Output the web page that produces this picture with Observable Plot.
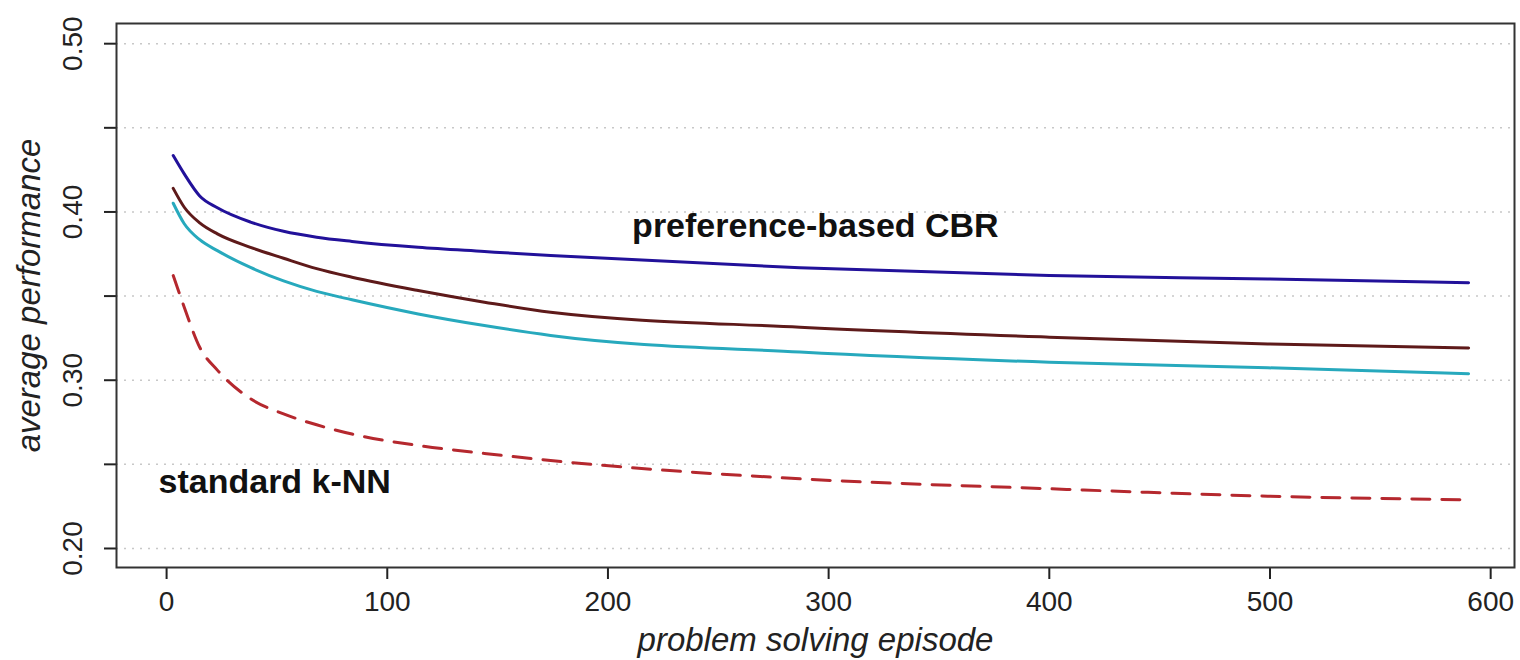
<!DOCTYPE html>
<html>
<head>
<meta charset="utf-8">
<script src="https://cdn.jsdelivr.net/npm/d3@7"></script>
<script src="https://cdn.jsdelivr.net/npm/@observablehq/plot@0.6"></script>
<style>
  html, body { margin: 0; padding: 0; background: #fff; }
</style>
</head>
<body>
<div id="chart"></div>
<script>
// ---- data ----
const episodes = [3, 8, 15, 23, 38, 53, 68, 84, 114, 144, 174, 287, 400, 499, 590];
const seriesNames = ["CBR variant 1", "CBR variant 2", "CBR variant 3", "standard k-NN"];
const seriesColors = ["#22119a", "#5e1a1a", "#27a9bd", "#b5282e"];
const variant1 = [0.4335, 0.4226, 0.4095, 0.4025, 0.394, 0.3885, 0.385, 0.3825, 0.379, 0.3765, 0.3741, 0.3668, 0.3622, 0.3602, 0.3579];
const variant2 = [0.414, 0.4028, 0.3935, 0.387, 0.379, 0.3725, 0.3663, 0.3612, 0.3533, 0.3464, 0.3404, 0.3315, 0.3256, 0.3216, 0.3192];
const variant3 = [0.4052, 0.393, 0.3835, 0.377, 0.367, 0.359, 0.3528, 0.3478, 0.3394, 0.3325, 0.3266, 0.3167, 0.3107, 0.3074, 0.3038];
const knn      = [0.3622, 0.3434, 0.3196, 0.306, 0.289, 0.280, 0.2735, 0.268, 0.2612, 0.2565, 0.2523, 0.2414, 0.2355, 0.2311, 0.2289];
const xTicks = [0, 100, 200, 300, 400, 500, 600];
const yTicks = [0.20, 0.25, 0.30, 0.35, 0.40, 0.45, 0.50];
const yLabelTicks = [0.20, 0.30, 0.40, 0.50];
const xTitle = "problem solving episode";
const yTitle = "average performance";
const annotationTexts = ["preference-based CBR", "standard k-NN"];
const annotationEpisodes = [294, 49];
const annotationPerf = [0.3913, 0.2392];

// ---- build tables ----
const allSeries = [variant1, variant2, variant3, knn];
const rows = allSeries.flatMap((vals, i) =>
  vals.map((v, j) => ({ series: seriesNames[i], episode: episodes[j], value: v }))
);
const annotations = annotationTexts.map((t, i) => ({ text: t, episode: annotationEpisodes[i], perf: annotationPerf[i] }));
const font = "'Liberation Sans', Arial, Helvetica, sans-serif";

const chart = Plot.plot({
  width: 1520,
  height: 660,
  marginLeft: 116,
  marginRight: 6,
  marginTop: 23,
  marginBottom: 93,
  style: { fontFamily: font, background: "#fff", color: "#222" },
  x: { domain: [-22.7, 610.8] },
  y: { domain: [0.1887, 0.512] },
  color: { domain: seriesNames, range: seriesColors },
  marks: [
    Plot.ruleY(yTicks, { stroke: "#c8c8c8", strokeWidth: 1.5, strokeDasharray: "2,6" }),
    Plot.axisY({ ticks: yTicks, tickSize: 12, tickFormat: () => "", label: null, stroke: "#222", strokeWidth: 2 }),
    Plot.axisX({ ticks: xTicks, tickSize: 12, tickFormat: () => "", label: null, stroke: "#222", strokeWidth: 2 }),
    Plot.text(yLabelTicks, { y: d => d, frameAnchor: "left", dx: -43, rotate: -90, textAnchor: "middle", lineAnchor: "middle", text: d => d.toFixed(2), fontSize: 28, fill: "#222" }),
    Plot.text(xTicks, { x: d => d, frameAnchor: "bottom", dy: 35, textAnchor: "middle", lineAnchor: "middle", text: d => String(d), fontSize: 28, fill: "#222" }),
    Plot.text([yTitle], { frameAnchor: "left", dx: -87, rotate: -90, textAnchor: "middle", lineAnchor: "middle", text: d => d, fontSize: 33, fontStyle: "italic", fill: "#222" }),
    Plot.text([xTitle], { frameAnchor: "bottom", dy: 73, textAnchor: "middle", lineAnchor: "middle", text: d => d, fontSize: 33, fontStyle: "italic", fill: "#222" }),
    Plot.line(rows.filter(d => d.series !== "standard k-NN"), {
      x: "episode", y: "value", z: "series", stroke: "series", strokeWidth: 3, curve: "monotone-x"
    }),
    Plot.line(rows.filter(d => d.series === "standard k-NN"), {
      x: "episode", y: "value", stroke: "series", strokeWidth: 3, strokeDasharray: "18,12", curve: "monotone-x"
    }),
    Plot.text(annotations, { x: "episode", y: "perf", text: "text", fontSize: 34, fontWeight: "bold", fill: "#111" }),
    Plot.frame({ stroke: "#333", strokeWidth: 2 })
  ]
});
document.getElementById("chart").appendChild(chart);
</script>
</body>
</html>
